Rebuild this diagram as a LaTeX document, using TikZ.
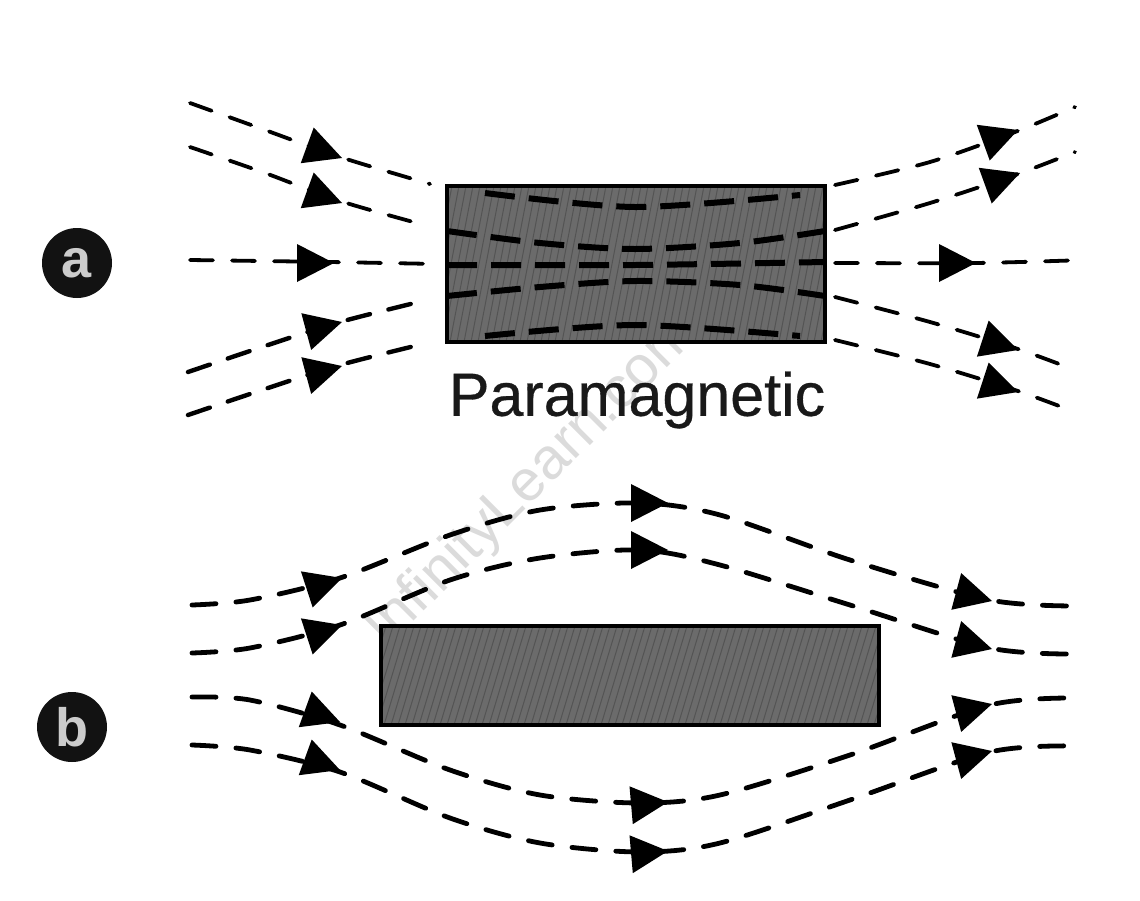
\documentclass[tikz,border=0pt]{standalone}
\usepackage{fontspec}
\setmainfont{Liberation Sans}
\newfontfamily\capfont[FakeBold=0.5]{Liberation Sans}
\definecolor{slab}{gray}{0.42}
\definecolor{slabline}{gray}{0.33}
\definecolor{wm}{gray}{0.86}
\definecolor{disc}{gray}{0.07}
\definecolor{discletter}{gray}{0.80}
\tikzset{
  field/.style={line width=1.9pt,dash pattern=on 11.5pt off 9.5pt,line cap=round},
  fieldb/.style={line width=2.4pt,dash pattern=on 12pt off 10pt,line cap=round},
  inner/.style={line width=3pt,dash pattern=on 15pt off 7pt},
  slabbox/.style={draw=black,line width=2pt,fill=slab},
  tag/.style={circle,fill=disc,minimum size=35pt,inner sep=0pt,text=discletter,font=\fontsize{27}{27}\selectfont\bfseries},
  caption/.style={font=\capfont\fontsize{30.5}{36}\selectfont,text=black!90},
  wmark/.style={font=\fontsize{29}{34}\selectfont,text=wm,rotate=45},
}
\newcommand{\ahead}[3]{\fill[black,shift={(#1,#2)},rotate=#3] (0,0) -- (-37,19) -- (-37,-19) -- cycle;}
\newcommand{\texture}[4]{\begin{scope}
  \clip (#1,#2) rectangle (#3,#4);
  \foreach \k in {0,7,...,700} {\draw[slabline,line width=.5pt] (#1+\k-60,#4) -- (#1+\k-30,#2);}
\end{scope}}
\begin{document}
\begin{tikzpicture}[x=.5pt,y=-.5pt]
\useasboundingbox[fill=white] (0,0) rectangle (1140,900);
\node[wmark] (wm) at (532,482) {InfinityLearn.com};
% slabs
\node[slabbox,minimum width=189pt,minimum height=78pt,inner sep=0pt] (A) at (636,264) {};
\texture{447}{186}{825}{342}
\node[slabbox,fill=none,minimum width=189pt,minimum height=78pt,inner sep=0pt] (Aedge) at (636,264) {};
\node[slabbox,minimum width=249pt,minimum height=49.5pt,inner sep=0pt] (B) at (630,675.5) {};
\texture{381}{626}{879}{725}
\node[slabbox,fill=none,minimum width=249pt,minimum height=49.5pt,inner sep=0pt] (Bedge) at (630,675.5) {};
% tags and caption
\node[tag] (ta) at (77,263) {a};
\node[tag] (tb) at (72,727) {b};
\node[caption] (cap) at (637,400) {Paramagnetic};
% (a) left
\draw[field] plot[smooth] coordinates {(190,103) (265,130) (340,157) (430,184)};
\draw[field] plot[smooth] coordinates {(190,147) (265,173) (340,201) (428,226)};
\draw[field] plot[smooth] coordinates {(190,260) (330,262) (438,264)};
\draw[field,line width=2.2pt] plot[smooth] coordinates {(188,372) (265,346) (340,322) (427,300)};
\draw[field,line width=2.2pt] plot[smooth] coordinates {(188,415) (265,389) (340,365) (427,343)};
% (a) right
\draw[field] plot[smooth] coordinates {(835,185) (930,162) (1015,132) (1075,107)};
\draw[field] plot[smooth] coordinates {(835,230) (930,203) (1015,175) (1075,152)};
\draw[field] plot[smooth] coordinates {(835,263) (975,263) (1085,260)};
\draw[field] plot[smooth] coordinates {(835,297) (930,322) (1015,348) (1075,370)};
\draw[field] plot[smooth] coordinates {(835,340) (930,364) (1015,390) (1075,412)};
% (a) inside slab
\draw[inner] plot[smooth] coordinates {(485,193) (635,207) (800,195)};
\draw[inner] plot[smooth] coordinates {(447,231) (540,243) (635,249) (740,243) (825,231)};
\draw[inner] plot[smooth] coordinates {(447,265) (635,265) (825,262)};
\draw[inner] plot[smooth] coordinates {(447,296) (540,287) (635,281) (740,285) (825,296)};
\draw[inner] plot[smooth] coordinates {(485,336) (635,325) (800,336)};
% (b)
\draw[fieldb] plot[smooth] coordinates {(192,605) (250,600) (340,578) (450,535) (540,510) (640,503) (720,515) (850,560) (990,600) (1078,606)};
\draw[fieldb] plot[smooth] coordinates {(192,653) (250,648) (340,625) (450,580) (540,558) (640,550) (720,565) (850,605) (990,648) (1078,654)};
\draw[fieldb] plot[smooth] coordinates {(192,697) (250,700) (340,725) (450,770) (540,795) (640,803) (720,795) (850,755) (990,705) (1078,698)};
\draw[fieldb] plot[smooth] coordinates {(192,745) (250,750) (340,772) (450,818) (540,843) (640,852) (720,843) (850,800) (990,752) (1078,746)};
% arrowheads (a)
\ahead{342}{158}{-20}
\ahead{342}{203}{-20}
\ahead{334}{263}{0}
\ahead{342}{322}{15}
\ahead{342}{366}{15}
\ahead{1018}{130}{20}
\ahead{1020}{173}{20}
\ahead{976}{263}{0}
\ahead{1018}{350}{-18}
\ahead{1018}{392}{-18}
% arrowheads (b)
\ahead{342}{578}{18}
\ahead{342}{625}{18}
\ahead{340}{722}{-20}
\ahead{340}{770}{-20}
\ahead{668}{503}{0}
\ahead{668}{550}{0}
\ahead{668}{802}{5}
\ahead{668}{851}{5}
\ahead{992}{601}{-15}
\ahead{992}{649}{-15}
\ahead{992}{704}{15}
\ahead{992}{751}{15}
\end{tikzpicture}
\end{document}
